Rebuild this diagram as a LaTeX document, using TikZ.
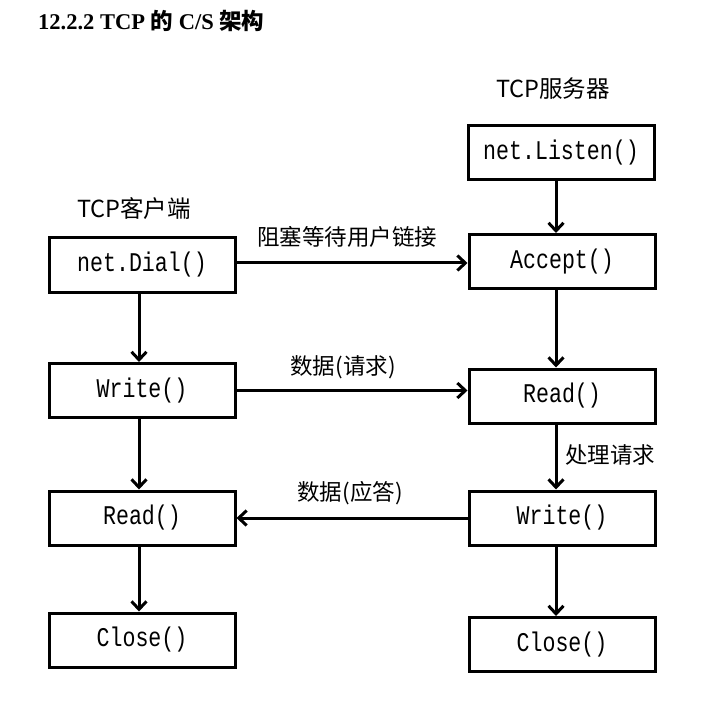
\documentclass[tikz,border=0pt]{standalone}
\usepackage{fontspec}
\setmainfont{Liberation Serif}
\newfontfamily\cjk{Noto Sans CJK SC}
\newfontfamily\boxfont[FakeStretch=0.8]{Liberation Mono}
\usetikzlibrary{arrows.meta}
\begin{document}
\begin{tikzpicture}[x=1pt,y=-1pt,
  fn/.style={draw, line width=3pt, minimum width=186pt, minimum height=54pt, inner sep=0pt, font=\boxfont\fontsize{27}{27}\selectfont},
  lbl/.style={inner sep=0pt, font=\cjk\fontsize{22.5}{22.5}\selectfont},
  head/.style={inner sep=0pt, font=\cjk\fontsize{23.5}{23.5}\selectfont},
  conn/.style={line width=3pt, -{Straight Barb[length=8pt,width=15pt,line width=3pt]}}]
\useasboundingbox (0,0) rectangle (719,708);
% title
\node[anchor=west, inner sep=0pt, font=\fontsize{22.5}{22.5}\selectfont\bfseries] (title) at (38,21)
  {12.2.2 TCP {\cjk\bfseries 的} C/S {\cjk\bfseries 架构}};
% headings
\node[head] (client) at (134,209) {TCP客户端};
\node[head] (server) at (553,89) {TCP服务器};
% client column
\node[fn] (cDial) at (142,265) {net.Dial()};
\node[fn] (cWrite) at (142,390.5) {Write()};
\node[fn] (cRead) at (142,518) {Read()};
\node[fn] (cClose) at (142,640) {Close()};
% server column
\node[fn] (sListen) at (561,152.5) {net.Listen()};
\node[fn] (sAccept) at (562,261.5) {Accept()};
\node[fn] (sRead) at (562,396) {Read()};
\node[fn] (sWrite) at (562,518) {Write()};
\node[fn] (sClose) at (562,644.5) {Close()};
% vertical connectors
\draw[conn] ([xshift=-3pt]cDial.south) -- ([xshift=-3pt]cWrite.north);
\draw[conn] ([xshift=-3pt]cWrite.south) -- ([xshift=-3pt]cRead.north);
\draw[conn] ([xshift=-3pt]cRead.south) -- ([xshift=-3pt]cClose.north);
\draw[conn] ([xshift=-5pt]sListen.south) -- ([xshift=-6pt]sAccept.north);
\draw[conn] ([xshift=-6pt]sAccept.south) -- ([xshift=-6pt]sRead.north);
\draw[conn] ([xshift=-6pt]sRead.south) -- ([xshift=-6pt]sWrite.north);
\draw[conn] ([xshift=-6pt]sWrite.south) -- ([xshift=-6pt]sClose.north);
% horizontal connectors
\coordinate (d1) at ([yshift=2pt]cDial.east);
\draw[conn] (d1) -- (sAccept.west |- d1);
\draw[conn] (cWrite.east) -- (sRead.west |- cWrite.east);
\draw[conn] (sWrite.west) -- (cRead.east);
% connector labels
\node[lbl] (l1) at (347,237) {阻塞等待用户链接};
\node[lbl] (l2) at (343,367) {数据(请求)};
\node[lbl] (l3) at (350,493) {数据(应答)};
\node[lbl] (l4) at (610,455) {处理请求};
\end{tikzpicture}
\end{document}
